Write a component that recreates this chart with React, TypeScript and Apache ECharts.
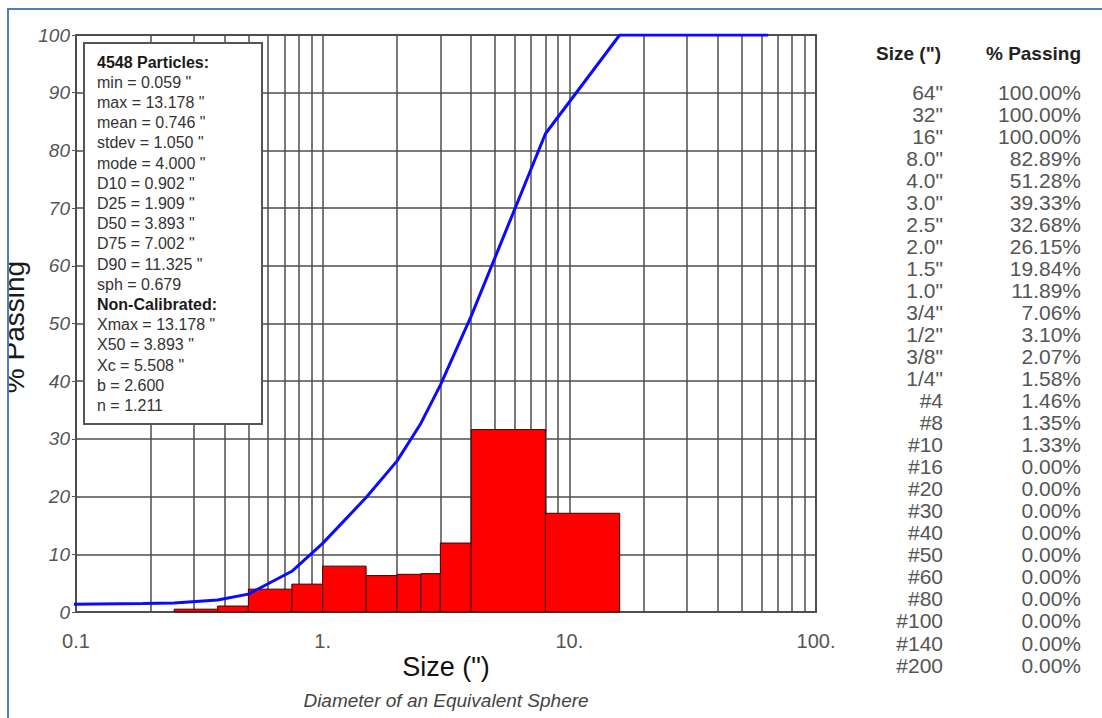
import React, { useEffect, useRef } from 'react';
import * as echarts from 'echarts';

// Sieve table (size label, size in inches, % passing)
const sieveLabels = ['64"', '32"', '16"', '8.0"', '4.0"', '3.0"', '2.5"', '2.0"', '1.5"', '1.0"', '3/4"', '1/2"', '3/8"', '1/4"', '#4', '#8', '#10', '#16', '#20', '#30', '#40', '#50', '#60', '#80', '#100', '#140', '#200'];
const sieveSizes = [64, 32, 16, 8, 4, 3, 2.5, 2, 1.5, 1, 0.75, 0.5, 0.375, 0.25, 0.187, 0.0937, 0.0787, 0.0469, 0.0331, 0.0232, 0.0165, 0.0117, 0.0098, 0.007, 0.0059, 0.0041, 0.0029];
const percentPassing = [100, 100, 100, 82.89, 51.28, 39.33, 32.68, 26.15, 19.84, 11.89, 7.06, 3.10, 2.07, 1.58, 1.46, 1.35, 1.33, 0, 0, 0, 0, 0, 0, 0, 0, 0, 0];

// Histogram bins (inches) and % retained in each
const binEdges = [0.25, 0.375, 0.5, 0.75, 1.0, 1.5, 2.0, 2.5, 3.0, 4.0, 8.0, 16];
const binPercent = [0.49, 1.03, 3.96, 4.83, 7.95, 6.31, 6.53, 6.65, 11.95, 31.61, 17.11];

const xTickValues = [0.1, 1, 10, 100];
const xTickLabels = ['0.1', '1.', '10.', '100.'];
const minorGridValues = [0.2, 0.3, 0.4, 0.5, 0.6, 0.7, 0.8, 0.9, 2, 3, 4, 5, 6, 7, 8, 9, 20, 30, 40, 50, 60, 70, 80, 90];

const statsLines = ['4548 Particles:', 'min = 0.059 "', 'max = 13.178 "', 'mean = 0.746 "', 'stdev = 1.050 "', 'mode = 4.000 "', 'D10 = 0.902 "', 'D25 = 1.909 "', 'D50 = 3.893 "', 'D75 = 7.002 "', 'D90 = 11.325 "', 'sph = 0.679', 'Non-Calibrated:', 'Xmax = 13.178 "', 'X50 = 3.893 "', 'Xc = 5.508 "', 'b = 2.600', 'n = 1.211'];
const statsBold = [0, 12];

export default function App() {
  const ref = useRef<HTMLDivElement>(null);
  useEffect(() => {
    const chart = echarts.init(ref.current!, null, { renderer: 'svg' });
    const FONT = '"Liberation Sans", Arial, sans-serif';

    const curve = sieveSizes.map((s, i) => [s, percentPassing[i]]);
    const bars = binPercent.map((h, i) => [binEdges[i], binEdges[i + 1], h]);

    const graphics: any[] = [];
    graphics.push({
      type: 'text', x: 14, y: 327, rotation: Math.PI / 2, z: 10,
      style: { text: '% Passing', fontSize: 28, fontFamily: FONT, fill: '#1a1a1a', align: 'center', verticalAlign: 'middle' },
    });
    graphics.push({ type: 'rect', z: 11, shape: { x: 0, y: 0, width: 8, height: 718 }, style: { fill: '#ffffff' } });
    graphics.push({ type: 'rect', z: 11, shape: { x: 0, y: 0, width: 1102, height: 8 }, style: { fill: '#ffffff' } });
    graphics.push({ type: 'line', z: 12, shape: { x1: 8, y1: 9, x2: 1102, y2: 9 }, style: { stroke: '#4a7ebb', lineWidth: 2 } });
    graphics.push({ type: 'line', z: 12, shape: { x1: 8, y1: 8, x2: 8, y2: 718 }, style: { stroke: '#4a7ebb', lineWidth: 2 } });

    // stats box
    graphics.push({
      type: 'rect', z: 10, shape: { x: 84, y: 43, width: 178, height: 381 },
      style: { fill: '#ffffff', stroke: '#555555', lineWidth: 2 },
    });
    statsLines.forEach((t, i) => {
      const bold = statsBold.indexOf(i) >= 0;
      graphics.push({
        type: 'text', z: 11, x: 97, y: 62 + i * 20.2,
        style: { text: t, fontSize: 16, fontFamily: FONT, fontWeight: bold ? 'bold' : 'normal', fill: bold ? '#1a1a1a' : '#333333', align: 'left', verticalAlign: 'middle' },
      });
    });

    // table
    graphics.push({ type: 'text', z: 11, x: 941, y: 53, style: { text: 'Size (")', fontSize: 19, fontWeight: 'bold', fontFamily: FONT, fill: '#222222', align: 'right', verticalAlign: 'middle' } });
    graphics.push({ type: 'text', z: 11, x: 1081, y: 53, style: { text: '% Passing', fontSize: 19, fontWeight: 'bold', fontFamily: FONT, fill: '#222222', align: 'right', verticalAlign: 'middle' } });
    sieveLabels.forEach((lab, i) => {
      const y = 92 + i * 22.04;
      graphics.push({ type: 'text', z: 11, x: 943, y, style: { text: lab, fontSize: 21, fontFamily: FONT, fill: '#555555', align: 'right', verticalAlign: 'middle' } });
      graphics.push({ type: 'text', z: 11, x: 1081, y, style: { text: percentPassing[i].toFixed(2) + '%', fontSize: 21, fontFamily: FONT, fill: '#555555', align: 'right', verticalAlign: 'middle' } });
    });

    // axis titles
    graphics.push({ type: 'text', z: 11, x: 446, y: 667, style: { text: 'Size (")', fontSize: 27, fontFamily: FONT, fill: '#111111', align: 'center', verticalAlign: 'middle' } });
    graphics.push({ type: 'text', z: 11, x: 446, y: 700, style: { text: 'Diameter of an Equivalent Sphere', fontSize: 19, fontStyle: 'italic', fontFamily: FONT, fill: '#444444', align: 'center', verticalAlign: 'middle' } });

    chart.setOption({
      animation: false,
      backgroundColor: '#ffffff',
      grid: { left: 76, right: 286, top: 35, bottom: 106, show: true, borderColor: '#555555', borderWidth: 2, backgroundColor: 'transparent' },
      xAxis: {
        type: 'log', logBase: 10, min: 0.1, max: 100,
        axisLine: { show: false },
        axisTick: { show: false },
        axisLabel: {
          color: '#555555', fontSize: 20, fontFamily: FONT, margin: 19,
          formatter: (v: number) => {
            const i = xTickValues.findIndex((t) => Math.abs(Math.log10(v) - Math.log10(t)) < 1e-6);
            return i >= 0 ? xTickLabels[i] : '';
          },
        },
        splitLine: { show: true, lineStyle: { color: '#4d4d4d', width: 1.5 } },
      },
      yAxis: {
        type: 'value', min: 0, max: 100, interval: 10,
        axisLine: { show: false },
        axisTick: { show: true, length: 4, lineStyle: { color: '#555555' } },
        axisLabel: { color: '#555555', fontSize: 19, fontStyle: 'italic', fontFamily: FONT, margin: 6 },
        splitLine: { show: true, lineStyle: { color: '#4d4d4d', width: 1.5 } },
      },
      series: [
        {
          type: 'line', data: [], z: 1, silent: true,
          markLine: {
            z: 1, silent: true, symbol: ['none', 'none'], label: { show: false },
            lineStyle: { color: '#4d4d4d', width: 1.5, type: 'solid' },
            data: minorGridValues.map((v) => ({ xAxis: v })),
          },
        },
        {
          type: 'custom', z: 3, data: bars,
          encode: { x: [0, 1], y: 2 },
          renderItem: (params: any, api: any) => {
            const p0 = api.coord([api.value(0), api.value(2)]);
            const p1 = api.coord([api.value(1), 0]);
            return {
              type: 'rect',
              shape: { x: p0[0], y: p0[1], width: p1[0] - p0[0], height: p1[1] - p0[1] },
              style: { fill: '#ff0000', stroke: '#3a0000', lineWidth: 1 },
            };
          },
        },
        {
          type: 'line', z: 4, data: curve, showSymbol: false, clip: true,
          lineStyle: { color: '#0a0aff', width: 3 },
        },
      ],
      graphic: graphics,
    });
    return () => chart.dispose();
  }, []);
  return <div ref={ref} style={{ position: 'absolute', left: 0, top: 0, width: 1102, height: 718 }} />;
}
